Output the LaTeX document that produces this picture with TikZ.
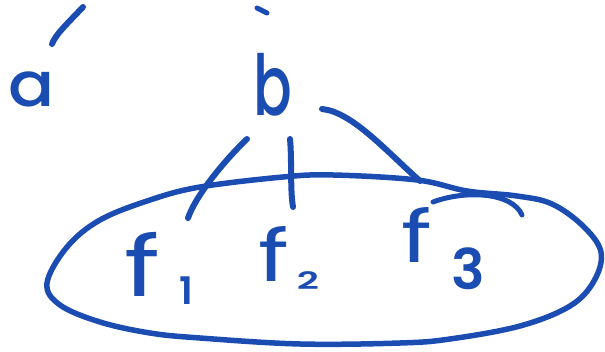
\documentclass[tikz,border=0pt]{standalone}
\usepackage{fontspec}
\setmainfont{Poppins Medium}
\newfontfamily\reg{Poppins}
\newfontfamily\heavy{Poppins SemiBold}
\definecolor{ink}{RGB}{26,76,178}
\begin{document}
\begin{tikzpicture}[x=1pt,y=-1pt,
  pen/.style={draw=ink,line width=6pt,line cap=round,line join=round},
  hand/.style={text=ink,inner sep=0pt,anchor=base west},
  hug/.style={pen,line width=5.5pt}]
\useasboundingbox (0,0) rectangle (605,352);
% letters
\node[hand] (a) at (8,107) {\scalebox{1.1}[1]{\fontsize{62}{62}\selectfont a}};
\node[hand] (b) at (253,116) {\scalebox{0.68}[1]{\fontsize{84}{84}\selectfont b}};
\node[hand] (f1) at (124,297) {\scalebox{1.3}[1]{\reg\fontsize{84}{84}\selectfont f}\kern19pt\raisebox{-8pt}{\heavy\fontsize{38}{38}\selectfont 1}};
\node[hand] (f2) at (258,282) {\scalebox{1.3}[1]{\reg\fontsize{72}{72}\selectfont f}\kern8pt\raisebox{-8pt}{\scalebox{1.2}[0.75]{\heavy\fontsize{32}{32}\selectfont 2}}};
\node[hand] (f3) at (401,263) {\scalebox{1.3}[1]{\reg\fontsize{72}{72}\selectfont f}\kern20pt\raisebox{-27pt}{\heavy\fontsize{56}{56}\selectfont 3}};
% stroke endpoints
\coordinate (aT) at (83,7);
\coordinate (aB) at (52,44);
\coordinate (tk1) at (257,8);
\coordinate (tk2) at (267,13);
\coordinate (b1s) at (247,139);
\coordinate (b1e) at (188,218);
\coordinate (b2s) at (290,139);
\coordinate (b2e) at (293,207);
\coordinate (b3s) at (322,109);
\coordinate (b3e) at (420,181);
\coordinate (h1) at (433,202);
\coordinate (h2) at (522,215);
% strokes
\draw[pen] (aT) .. controls (66,25) and (56,34) .. (aB);
\draw[pen,line width=5pt] (tk1) -- (tk2);
\draw[pen] (b1s) .. controls (225,160) and (196,195) .. (b1e);
\draw[pen] (b2s) .. controls (292,160) and (290,190) .. (b2e);
\draw[pen] (b3s) .. controls (352,112) and (385,150) .. (b3e);
\draw[pen,line width=5pt] (h1) .. controls (465,190) and (512,192) .. (h2);
% ellipse-like loop
\draw[hug] plot[smooth cycle,tension=0.6] coordinates {
 (47,283) (67,247) (100,220) (150,200) (200,187) (283,177) (333,175)
 (417,180) (467,191) (517,196) (552,204) (583,226) (601,252) (594,281)
 (570,306) (520,326) (450,339) (400,343) (300,344) (200,338) (150,333)
 (100,322) (60,305)};
\end{tikzpicture}
\end{document}
